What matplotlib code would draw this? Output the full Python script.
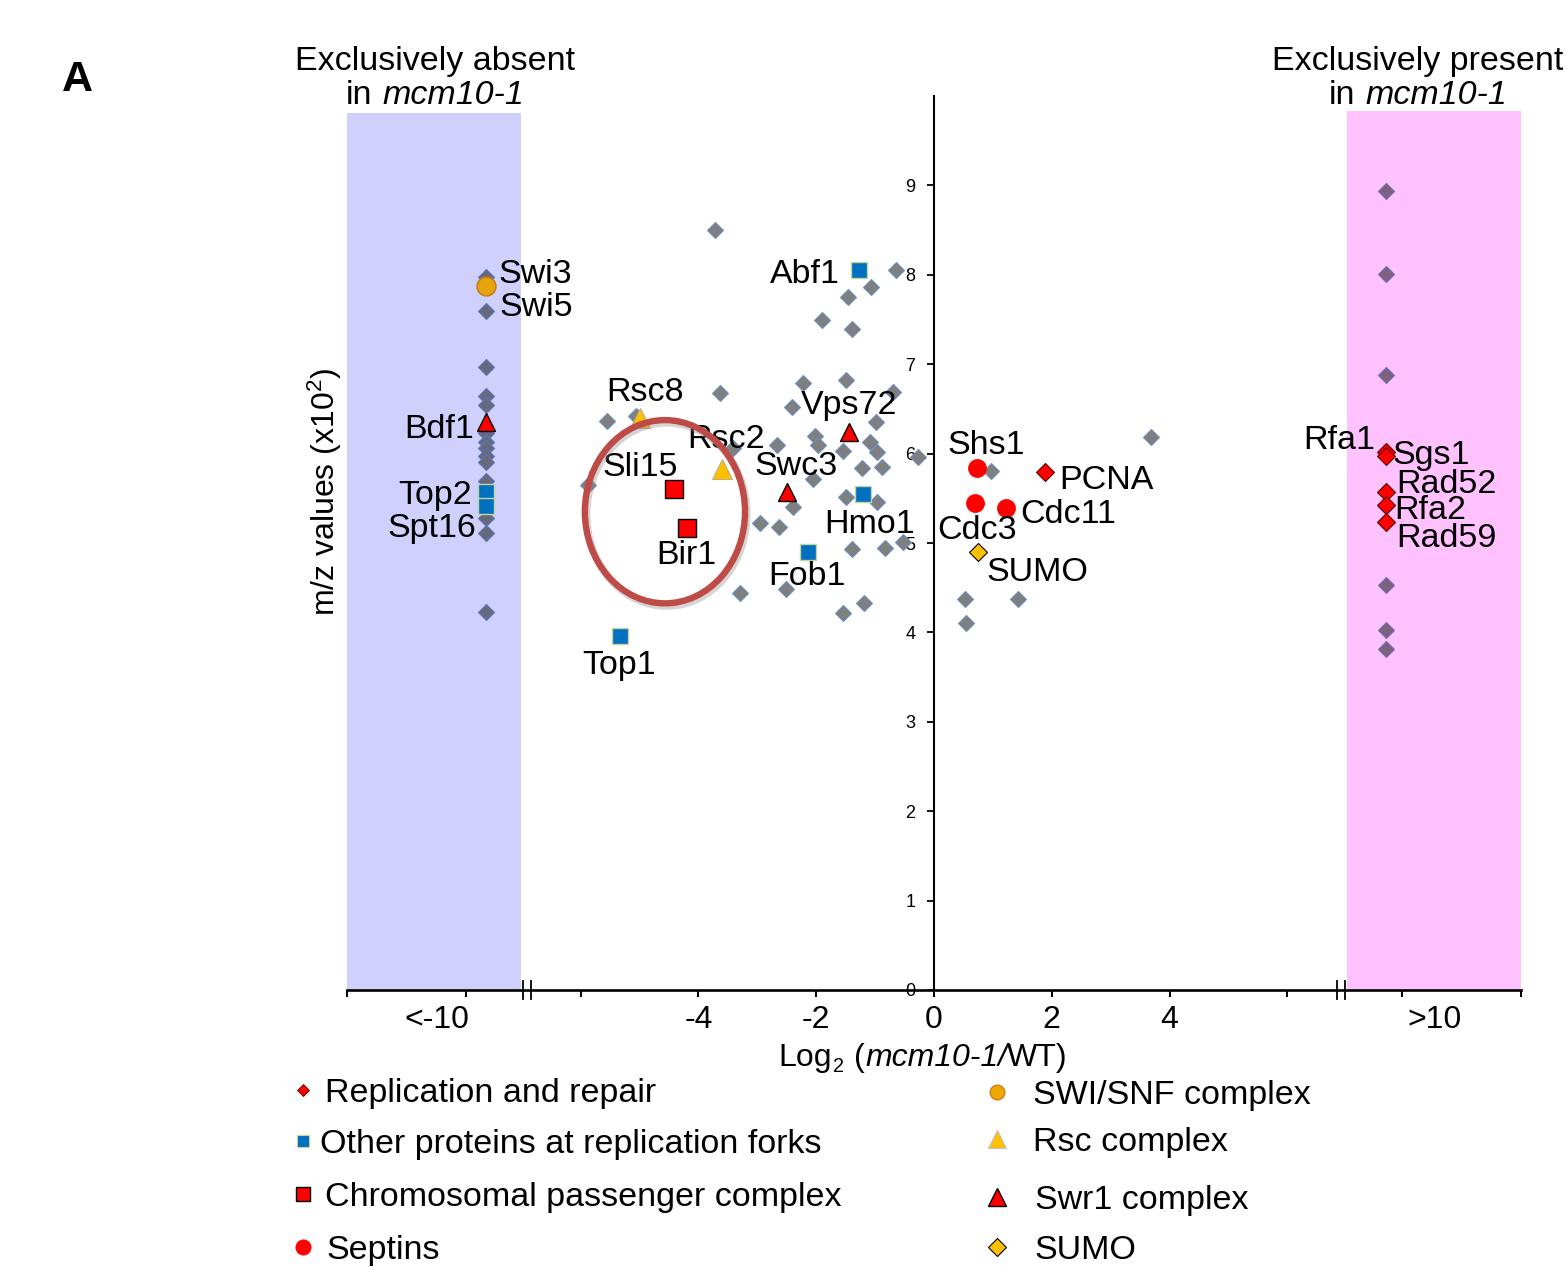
import matplotlib
matplotlib.use('Agg')
import matplotlib.pyplot as plt
from matplotlib.patches import Rectangle, Ellipse
from matplotlib.lines import Line2D

plt.rcParams['font.family'] = ['Liberation Sans', 'DejaVu Sans']
plt.rcParams['mathtext.fontset'] = 'custom'
plt.rcParams['mathtext.rm'] = 'Liberation Sans'
plt.rcParams['mathtext.it'] = 'Liberation Sans:italic'
plt.rcParams['mathtext.bf'] = 'Liberation Sans:bold'

W, H = 1567, 1267

# plotting positions of the two "exclusive" columns on the broken x axis
ABSENT_X = -7.61    # "<-10"  (exclusively absent in mcm10-1)
PRESENT_X = 7.67    # ">10"   (exclusively present in mcm10-1)

# ---------------- data ----------------
# unclassified proteins (grey diamonds), log2 ratio vs m/z (x10^2)
other_x = [-3.72, -0.65, -1.07, -1.46, -1.90, -1.39, -3.63, -5.55, -5.06, -2.22,
           -1.49, -0.70, -2.41, -0.98, -2.02, -2.67, -1.97, -1.55, -1.09, -0.97,
           -0.27, -1.22, -0.88, -2.05, -2.39, -1.49, -0.97, -2.95, -2.63, -1.39,
           -0.83, -0.53, -3.29, -2.51, -1.55, -1.19, -5.87, -3.41,
           0.97, 3.68, 0.53, 0.55, 1.42]
other_y = [8.50, 8.05, 7.86, 7.75, 7.49, 7.39, 6.68, 6.36, 6.42, 6.79,
           6.82, 6.69, 6.52, 6.35, 6.20, 6.10, 6.10, 6.03, 6.13, 6.02,
           5.96, 5.84, 5.85, 5.72, 5.40, 5.51, 5.46, 5.22, 5.18, 4.93,
           4.94, 5.01, 4.44, 4.49, 4.22, 4.33, 5.65, 6.06,
           5.81, 6.19, 4.37, 4.10, 4.37]
absent_other_y = [7.98, 7.59, 6.97, 6.64, 6.54, 6.23, 6.13, 6.06, 5.97, 5.91,
                  5.69, 5.28, 5.11, 4.23]
present_other_y = [8.94, 8.01, 6.88, 5.41, 4.53, 4.03, 3.81]

# Replication and repair
rep_names = ['PCNA', 'Rfa1', 'Sgs1', 'Rad52', 'Rfa2', 'Rad59']
rep_x = [1.89, PRESENT_X, PRESENT_X, PRESENT_X, PRESENT_X, PRESENT_X]
rep_y = [5.79, 6.02, 5.97, 5.57, 5.43, 5.24]
# Other proteins at replication forks
fork_names = ['Abf1', 'Hmo1', 'Fob1', 'Top1', 'Top2', 'Spt16']
fork_x = [-1.27, -1.21, -2.14, -5.33, ABSENT_X, ABSENT_X]
fork_y = [8.05, 5.55, 4.90, 3.96, 5.57, 5.41]
# Chromosomal passenger complex
cpc_names = ['Sli15', 'Bir1']
cpc_x = [-4.41, -4.19]
cpc_y = [5.60, 5.17]
# Septins
sep_names = ['Shs1', 'Cdc3', 'Cdc11']
sep_x = [0.73, 0.69, 1.23]
sep_y = [5.84, 5.45, 5.39]
# SWI/SNF complex
swi_names = ['Swi3']
swi_x = [ABSENT_X]
swi_y = [7.87]
# Rsc complex
rsc_names = ['Rsc8', 'Rsc2']
rsc_x = [-4.99, -3.60]
rsc_y = [6.40, 5.83]
# Swr1 complex
swr_names = ['Bdf1', 'Vps72', 'Swc3']
swr_x = [ABSENT_X, -1.44, -2.50]
swr_y = [6.35, 6.24, 5.57]
# SUMO
sumo_names = ['SUMO']
sumo_x = [0.74]
sumo_y = [4.90]

x_tick_vals = [-4, -2, 0, 2, 4]
y_tick_vals = [0, 1, 2, 3, 4, 5, 6, 7, 8, 9]

# ---------------- styles ----------------
GREY = dict(marker='D', ms=8.5, mfc='#7f7f7f', mec='#6f8fc0', mew=0.8)
GREY_ABS = dict(marker='D', ms=8.5, mfc='#68687d', mec='#5975be', mew=0.8)
GREY_PRE = dict(marker='D', ms=8.5, mfc='#7f617f', mec='#6d6dc0', mew=0.8)
STY_REP = dict(marker='D', ms=8.7, mfc='#ff0000', mec='#5a0000', mew=0.8)
STY_FORK = dict(marker='s', ms=12.2, mfc='#0070c0', mec='#c3d69b', mew=1.0)
STY_CPC = dict(marker='s', ms=12.8, mfc='#ff0000', mec='#000000', mew=1.0)
STY_SEP = dict(marker='o', ms=13, mfc='#ff0000', mec='#ff0000', mew=0.5)
STY_SWI = dict(marker='o', ms=13.5, mfc='#e5a50a', mec='#c77d1c', mew=1.2)
STY_RSC = dict(marker='^', ms=14, mfc='#ffc000', mec='#bfae8a', mew=0.8)
STY_SWR = dict(marker='^', ms=13.5, mfc='#ff0000', mec='#000000', mew=1.0)
STY_SUMO = dict(marker='D', ms=9, mfc='#ffc000', mec='#000000', mew=0.8)

# label placement: (ha, dx px, dy px (up)) of label centre relative to marker
LABEL_POS = {
    'Swi3': ('left', 13, 16), 'Abf1': ('right', -19, 0),
    'Rsc8': ('center', 5, 29), 'Vps72': ('center', 0, 30), 'Rsc2': ('center', 4, 33),
    'Sli15': ('center', -34, 26), 'Swc3': ('center', 9, 29), 'Hmo1': ('center', 7, -27),
    'Bir1': ('center', -1, -24), 'Fob1': ('center', -1, -21), 'Top1': ('center', -1, -26),
    'Bdf1': ('right', -12, -3), 'Top2': ('right', -14, 0), 'Spt16': ('right', -10, -18),
    'Shs1': ('center', 9, 26), 'PCNA': ('left', 14, -4), 'Cdc11': ('left', 14, -3),
    'Cdc3': ('center', 2, -24), 'SUMO': ('left', 9, -17),
    'Rfa1': ('right', -10, 15), 'Sgs1': ('left', 7, 4), 'Rad52': ('left', 11, 11),
    'Rfa2': ('left', 9, -2), 'Rad59': ('left', 11, -13),
}
LABEL_FS = 24.5
CAP_HALF = 12.2   # px

fig = plt.figure(figsize=(W / 100, H / 100), dpi=100)
ax = fig.add_axes([347 / W, 1 - 990 / H, (1521 - 347) / W, (990 - 96) / H])
ax.set_xlim(-9.97, 9.97)
ax.set_ylim(0, 10)

# shaded exclusive bands
ax.add_patch(Rectangle((-9.97, 0), 2.96, 9.81, facecolor='#d0d0fc', edgecolor='none', zorder=0))
ax.add_patch(Rectangle((7.01, 0), 2.96, 9.83, facecolor='#ffc2ff', edgecolor='none', zorder=0))

# points
ax.plot(other_x, other_y, ls='none', zorder=2, **GREY)
ax.plot([ABSENT_X] * len(absent_other_y), absent_other_y, ls='none', zorder=2, **GREY_ABS)
ax.plot([PRESENT_X] * len(present_other_y), present_other_y, ls='none', zorder=2, **GREY_PRE)

groups = [
    (fork_names, fork_x, fork_y, STY_FORK),
    (rsc_names, rsc_x, rsc_y, STY_RSC),
    (swi_names, swi_x, swi_y, STY_SWI),
    (swr_names, swr_x, swr_y, STY_SWR),
    (cpc_names, cpc_x, cpc_y, STY_CPC),
    (sep_names, sep_x, sep_y, STY_SEP),
    (sumo_names, sumo_x, sumo_y, STY_SUMO),
    (rep_names, rep_x, rep_y, STY_REP),
]
for names, xs, ys, sty in groups:
    ax.plot(xs, ys, ls='none', zorder=3, **sty)
    for n, xv, yv in zip(names, xs, ys):
        ha, dx, dy = LABEL_POS[n]
        ax.annotate(n, (xv, yv), xytext=(dx * 0.72, (dy - CAP_HALF) * 0.72),
                    textcoords='offset points', ha=ha, va='baseline',
                    fontsize=LABEL_FS, zorder=4)
# second SWI/SNF label
ha, dx, dy = ('left', 14, -17)
ax.annotate('Swi5', (swi_x[0], swi_y[0]), xytext=(dx * 0.72, (dy - CAP_HALF) * 0.72),
            textcoords='offset points', ha=ha, va='baseline', fontsize=LABEL_FS, zorder=4)

# highlight ellipse
ax.add_patch(Ellipse((-4.54, 5.32), 2.72, 2.05, fill=False, edgecolor='#888888',
                     lw=5.5, alpha=0.35, zorder=5))
ax.add_patch(Ellipse((-4.57, 5.35), 2.72, 2.05, fill=False, edgecolor='#be4b48',
                     lw=4.6, zorder=5))

# axes
for s in ['top', 'right']:
    ax.spines[s].set_visible(False)
ax.spines['left'].set_position(('data', 0))
ax.spines['left'].set_linewidth(1.5)
ax.spines['bottom'].set_linewidth(1.9)

major_pos = [-9.965, -7.95, -6] + x_tick_vals + [6, 7.95, 9.965]
major_lab = ['', '', ''] + [str(v) for v in x_tick_vals] + ['', '', '']
ax.set_xticks(major_pos)
ax.set_xticklabels(major_lab)
ax.set_xticks([-8.45, 8.5], minor=True)
ax.set_xticklabels(['<-10', '>10'], minor=True)
ax.tick_params(axis='x', which='major', direction='out', length=5, width=1.4,
               labelsize=23, pad=5.8)
ax.tick_params(axis='x', which='minor', length=0, labelsize=23, pad=10.8)

ax.set_yticks(y_tick_vals)
ax.set_yticklabels([str(v) for v in y_tick_vals])
ax.tick_params(axis='y', direction='out', length=5.4, width=1.3, labelsize=13, pad=8)

# axis break marks
for xb in [-6.98, -6.84, 6.84, 6.98]:
    ax.plot([xb, xb], [-0.1, 0.1], color='black', lw=1.3, clip_on=False, zorder=6)

# figure texts
def ftext(xp, yp, s, **kw):
    return fig.text(xp / W, 1 - yp / H, s, **kw)

renderer = fig.canvas.get_renderer()

def rich_text(xc, yb, pieces, fs):
    """Centred run of text pieces: (text, style, size factor, baseline shift px down, gap px before)."""
    items = []
    total = 0.0
    for s, style, sf, shift, gap in pieces:
        t = ftext(0, yb + shift, s, fontsize=fs * sf, fontstyle=style,
                  ha='left', va='baseline')
        w = t.get_window_extent(renderer).width
        items.append((t, w, gap))
        total += w + gap
    x = xc - total / 2
    for t, w, gap in items:
        x += gap
        t.set_x(x / W)
        x += w

SP = 0.278 * 24.5 / 0.72   # width of a space in px

ftext(77, 91, 'A', fontsize=31, fontweight='bold', ha='center', va='baseline')
ftext(435, 70, 'Exclusively absent', fontsize=24.5, ha='center', va='baseline')
rich_text(435, 104, [('in', 'normal', 1, 0, 0), ('mcm10-1', 'italic', 1, 0, SP)], 24.5)
ftext(1418, 70, 'Exclusively present', fontsize=24.5, ha='center', va='baseline')
rich_text(1418, 104, [('in', 'normal', 1, 0, 0), ('mcm10-1', 'italic', 1, 0, SP)], 24.5)
ftext(325, 492, r'm/z values (x10$^2$)', fontsize=23, rotation=90, ha='center', va='center')
SPX = 0.278 * 23 / 0.72
rich_text(923, 1066, [('Log', 'normal', 1, 0, 0), ('2', 'normal', 0.62, 6, 1),
                      ('(', 'normal', 1, 0, SPX + 1), ('mcm10-1/', 'italic', 1, 0, 1),
                      ('WT)', 'normal', 1, 0, 0)], 23)

# legend (manual, two columns)
legend_rows = [
    ('Replication and repair', 303, 325, 1090, dict(marker='D', ms=6.2, mfc='#ff0000', mec='#5a0000', mew=0.6)),
    ('Other proteins at replication forks', 303, 320, 1141, dict(marker='s', ms=8, mfc='#0070c0', mec='#c3d69b', mew=0.8)),
    ('Chromosomal passenger complex', 303, 325, 1194, dict(marker='s', ms=9.5, mfc='#ff0000', mec='#000000', mew=1.0)),
    ('Septins', 303, 326, 1247, dict(marker='o', ms=11, mfc='#ff0000', mec='#ff0000', mew=0.5)),
    ('SWI/SNF complex', 997, 1033, 1092, dict(marker='o', ms=10.5, mfc='#f0a800', mec='#d07a1a', mew=1.0)),
    ('Rsc complex', 997, 1033, 1139, dict(marker='^', ms=12.5, mfc='#ffc000', mec='#b8c4dc', mew=0.8)),
    ('Swr1 complex', 997, 1035, 1197, dict(marker='^', ms=12.5, mfc='#ff0000', mec='#000000', mew=1.0)),
    ('SUMO', 997, 1034, 1247, dict(marker='D', ms=9, mfc='#ffc000', mec='#000000', mew=0.8)),
]
for lab, mx, tx, yc, sty in legend_rows:
    fig.add_artist(Line2D([mx / W], [1 - yc / H], transform=fig.transFigure, ls='none', **sty))
    ftext(tx, yc + CAP_HALF, lab, fontsize=24.5, ha='left', va='baseline')

fig.savefig('out.png', dpi=100)
